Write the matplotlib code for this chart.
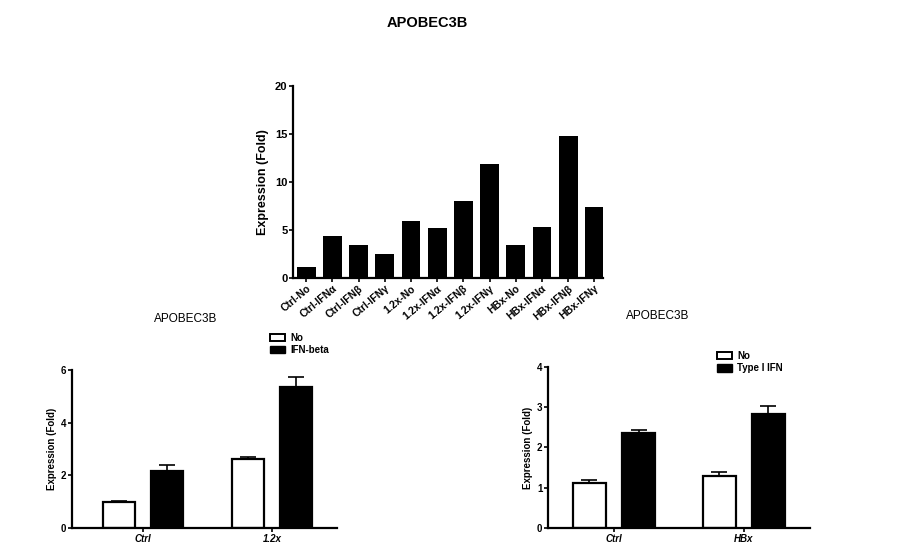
import numpy as np
import matplotlib
matplotlib.use("Agg")
import matplotlib.pyplot as plt
from matplotlib.patches import Patch

plt.rcParams["font.family"] = ["Liberation Sans", "DejaVu Sans"]

# top panel: single measurements
top_labels = ["Ctrl-No", "Ctrl-IFNα", "Ctrl-IFNβ", "Ctrl-IFNγ",
              "1.2x-No", "1.2x-IFNα", "1.2x-IFNβ", "1.2x-IFNγ",
              "HBx-No", "HBx-IFNα", "HBx-IFNβ", "HBx-IFNγ"]
top_values = [1.1, 4.4, 3.4, 2.5, 5.9, 5.2, 8.0, 11.9, 3.4, 5.3, 14.8, 7.4]

# bottom-left: IFN-beta
bl_groups = ["Ctrl", "1.2x"]
bl_no = [1.0, 2.6]
bl_no_err = [0.02, 0.1]
bl_ifn = [2.15, 5.35]
bl_ifn_err = [0.22, 0.36]

# bottom-right: type I IFN
br_groups = ["Ctrl", "HBx"]
br_no = [1.12, 1.3]
br_no_err = [0.07, 0.1]
br_ifn = [2.37, 2.83]
br_ifn_err = [0.06, 0.2]


def style(ax, size=7):
    for s in ("top", "right"):
        ax.spines[s].set_visible(False)
    for s in ("left", "bottom"):
        ax.spines[s].set_linewidth(1.6)
    ax.tick_params(direction="out", length=3, width=1.2, labelsize=size, pad=1)
    for t in ax.get_yticklabels():
        t.set_fontweight("bold")


fig = plt.figure(figsize=(8.99, 5.59), dpi=100)

# ---- top
ax = fig.add_axes([0.326, 0.503, 0.345, 0.343])
x = np.arange(len(top_values))
ax.bar(x, top_values, width=0.72, color="black")
ax.set_xlim(-0.5, 11.34)
ax.set_ylim(0, 20)
ax.set_yticks([0, 5, 10, 15, 20])
ax.set_xticks(x)
ax.set_xticklabels(top_labels, rotation=40, ha="right", rotation_mode="anchor",
                   fontsize=7.5, fontweight="bold")
ax.set_ylabel("Expression (Fold)", fontsize=9, fontweight="bold", labelpad=4)
style(ax, 8)
for t in ax.get_xticklabels():
    t.set_fontsize(7.5)
fig.text(0.475, 0.959, "APOBEC3B", ha="center", va="center",
         fontsize=10.5, fontweight="bold")


def grouped(ax, groups, no, no_err, ifn, ifn_err, ymax, yticks, xlim, w, off):
    x = np.arange(len(groups))
    ax.bar(x - off, no, width=w, color="white", edgecolor="black", linewidth=1.6,
           yerr=[np.zeros(len(no)), no_err], capsize=6,
           error_kw=dict(elinewidth=1.2, capthick=1.2))
    ax.bar(x + off, ifn, width=w, color="black", edgecolor="black", linewidth=1.6,
           yerr=[np.zeros(len(ifn)), ifn_err], capsize=6,
           error_kw=dict(elinewidth=1.2, capthick=1.2))
    ax.set_xlim(*xlim)
    ax.set_ylim(0, ymax)
    ax.set_yticks(yticks)
    ax.set_xticks(x)
    ax.set_xticklabels(groups, fontsize=7, fontweight="bold", style="italic")
    ax.tick_params(axis="x", length=0)
    ax.set_ylabel("Expression (Fold)", fontsize=7, fontweight="bold", labelpad=3)
    style(ax)


# ---- bottom left
ax2 = fig.add_axes([0.080, 0.0555, 0.295, 0.283])
grouped(ax2, bl_groups, bl_no, bl_no_err, bl_ifn, bl_ifn_err,
        6, [0, 2, 4, 6], (-0.55, 1.504), 0.25, 0.186)
fig.text(0.206, 0.429, "APOBEC3B", ha="center", va="center", fontsize=8.5)
fig.legend(handles=[Patch(facecolor="white", edgecolor="black", linewidth=1.4, label="No"),
                    Patch(facecolor="black", edgecolor="black", label="IFN-beta")],
           loc="upper left", bbox_to_anchor=(0.300, 0.405), frameon=False,
           prop=dict(weight="bold", size=7), handlelength=1.6,
           handleheight=0.8, handletextpad=0.5, labelspacing=0.25,
           borderpad=0, borderaxespad=0)

# ---- bottom right
ax3 = fig.add_axes([0.6096, 0.0555, 0.291, 0.288])
grouped(ax3, br_groups, br_no, br_no_err, br_ifn, br_ifn_err,
        4, [0, 1, 2, 3, 4], (-0.508, 1.508), 0.254, 0.19)
fig.text(0.731, 0.435, "APOBEC3B", ha="center", va="center", fontsize=8.5)
fig.legend(handles=[Patch(facecolor="white", edgecolor="black", linewidth=1.4, label="No"),
                    Patch(facecolor="black", edgecolor="black", label="Type I IFN")],
           loc="upper left", bbox_to_anchor=(0.797, 0.372), frameon=False,
           prop=dict(weight="bold", size=7), handlelength=1.6,
           handleheight=0.8, handletextpad=0.5, labelspacing=0.25,
           borderpad=0, borderaxespad=0)

fig.savefig("out.png", dpi=100)
